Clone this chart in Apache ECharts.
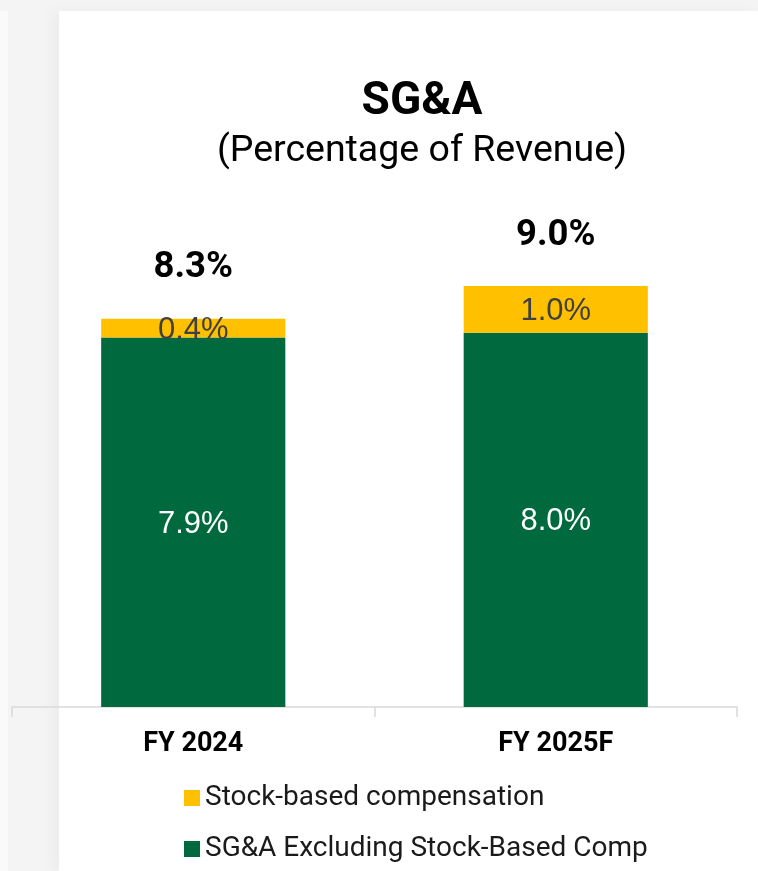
<!DOCTYPE html>
<html>
<head>
<meta charset="utf-8">
<script src="https://cdn.jsdelivr.net/npm/echarts@6/dist/echarts.min.js"></script>
<style>
  html, body { margin: 0; padding: 0; width: 758px; height: 871px; overflow: hidden; background: #f4f4f4; }
  #card { position: absolute; left: 59px; top: 11px; right: 0; bottom: 0; background: #ffffff; box-shadow: -6px 0 14px rgba(0,0,0,0.04); }
  #leftfade { position: absolute; left: 0; top: 11px; width: 8px; bottom: 0; background: #fafafa; }
  #chart { position: absolute; left: 0; top: 0; width: 758px; height: 871px; }
</style>
</head>
<body>
<div id="leftfade"></div>
<div id="card"></div>
<div id="chart"></div>
<script>
const categories = ['FY 2024', 'FY 2025F'];
const sgaExSbc = [7.9, 8.0];
const sbc = [0.4, 1.0];
const totals = [8.3, 9.0];
const seriesNames = ['Stock-based compensation', 'SG&A Excluding Stock-Based Comp'];

const chart = echarts.init(document.getElementById('chart'), null, { renderer: 'canvas' });
const pct = p => Number(p.value).toFixed(1) + '%';

chart.setOption({
  backgroundColor: 'transparent',
  animation: false,
  title: {
    text: 'SG&A',
    subtext: '(Percentage of Revenue)',
    left: 417,
    textAlign: 'center',
    top: 74,
    itemGap: 8,
    textStyle: { fontFamily: 'Roboto', fontWeight: 'bold', fontSize: 46, color: '#000000' },
    subtextStyle: { fontFamily: 'Roboto', fontWeight: 'normal', fontSize: 37.5, color: '#000000' }
  },
  grid: { left: 12, right: 21, top: 286, bottom: 164, containLabel: false },
  xAxis: {
    type: 'category',
    data: categories,
    boundaryGap: true,
    axisLine: { lineStyle: { color: '#d9d9d9', width: 1.5 } },
    axisTick: { show: true, length: 10, lineStyle: { color: '#d9d9d9', width: 1.5 } },
    axisLabel: { margin: 24, fontFamily: 'Roboto', fontWeight: 'bold', fontSize: 27, color: '#000000' }
  },
  yAxis: { type: 'value', min: 0, max: 9, show: false, splitLine: { show: false } },
  legend: {
    orient: 'vertical',
    left: 179,
    top: 779,
    itemWidth: 16,
    itemHeight: 16,
    itemGap: 23,
    icon: 'rect',
    data: seriesNames,
    textStyle: { fontFamily: 'Roboto', fontSize: 28, color: '#1a1a1a' }
  },
  series: [
    {
      name: 'Total',
      type: 'bar',
      barWidth: '50.8%',
      barGap: '-100%',
      data: totals,
      z: 1,
      silent: true,
      itemStyle: { color: 'rgba(0,0,0,0)' },
      label: { show: true, position: 'top', distance: 32, formatter: pct, color: '#000000', fontFamily: 'Roboto', fontWeight: 'bold', fontSize: 36.5 }
    },
    {
      name: seriesNames[1],
      type: 'bar',
      stack: 'sga',
      barWidth: '50.8%',
      barGap: '-100%',
      data: sgaExSbc,
      z: 2,
      itemStyle: { color: '#00693E' },
      label: { show: true, position: 'inside', offset: [0, 2], formatter: pct, color: '#ffffff', fontFamily: 'Liberation Sans', fontSize: 31 }
    },
    {
      name: seriesNames[0],
      type: 'bar',
      stack: 'sga',
      barWidth: '50.8%',
      barGap: '-100%',
      data: sbc,
      z: 2,
      itemStyle: { color: '#FFC000' },
      label: { show: true, position: 'inside', offset: [0, 2], formatter: pct, color: '#404040', fontFamily: 'Liberation Sans', fontSize: 31 }
    }
  ]
});
</script>
</body>
</html>
